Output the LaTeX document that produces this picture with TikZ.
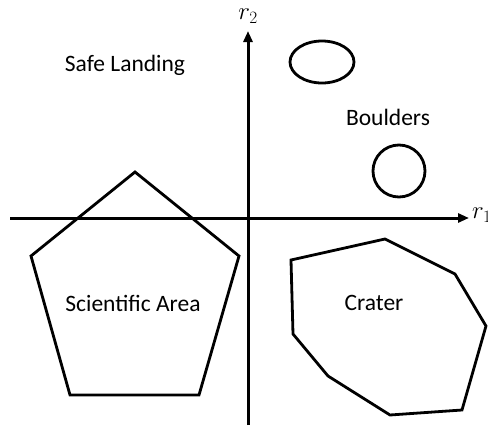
\documentclass[tikz,border=0pt]{standalone}
\usepackage{fontspec}
\setmainfont{Carlito}
\usetikzlibrary{arrows.meta}
\begin{document}
\begin{tikzpicture}[x=1pt,y=-1pt,
  shape line/.style={line width=2.8pt,line join=miter},
  axis/.style={line width=3pt,-{Triangle[length=11pt,width=9pt]}},
  lbl/.style={font=\fontsize{23.5}{26}\selectfont,inner sep=0pt},
  axlbl/.style={font=\fontsize{25}{28}\selectfont,inner sep=0pt}]
\useasboundingbox (0,0) rectangle (488,426);
% axes
\coordinate (xs) at (10,218);
\coordinate (xe) at (469,218);
\coordinate (ys) at (248,425);
\coordinate (ye) at (248,31);
\draw[axis] (xs) -- (xe);
\draw[axis] (ys) -- (ye);
\node[axlbl,anchor=west] (r1) at (472,215) {$r_1$};
\node[axlbl] (r2) at (248,16) {$r_2$};
% pentagon
\draw[shape line] (135,172) -- (239,256) -- (199,395) -- (70,395) -- (31,256) -- cycle;
% crater
\draw[shape line] (291,260) -- (385,239) -- (455,274) -- (486,326) -- (462,410) -- (390,415) -- (328,376) -- (293,334) -- cycle;
% boulders
\draw[shape line] (322,62) ellipse [x radius=32,y radius=21];
\draw[shape line] (399,171) circle [radius=26];
% labels
\node[lbl] (safe) at (125,65) {Safe Landing};
\node[lbl] (boul) at (388,117) {Boulders};
\node[lbl] (sci) at (133,303) {Scientific Area};
\node[lbl] (crat) at (374,303) {Crater};
\end{tikzpicture}
\end{document}
